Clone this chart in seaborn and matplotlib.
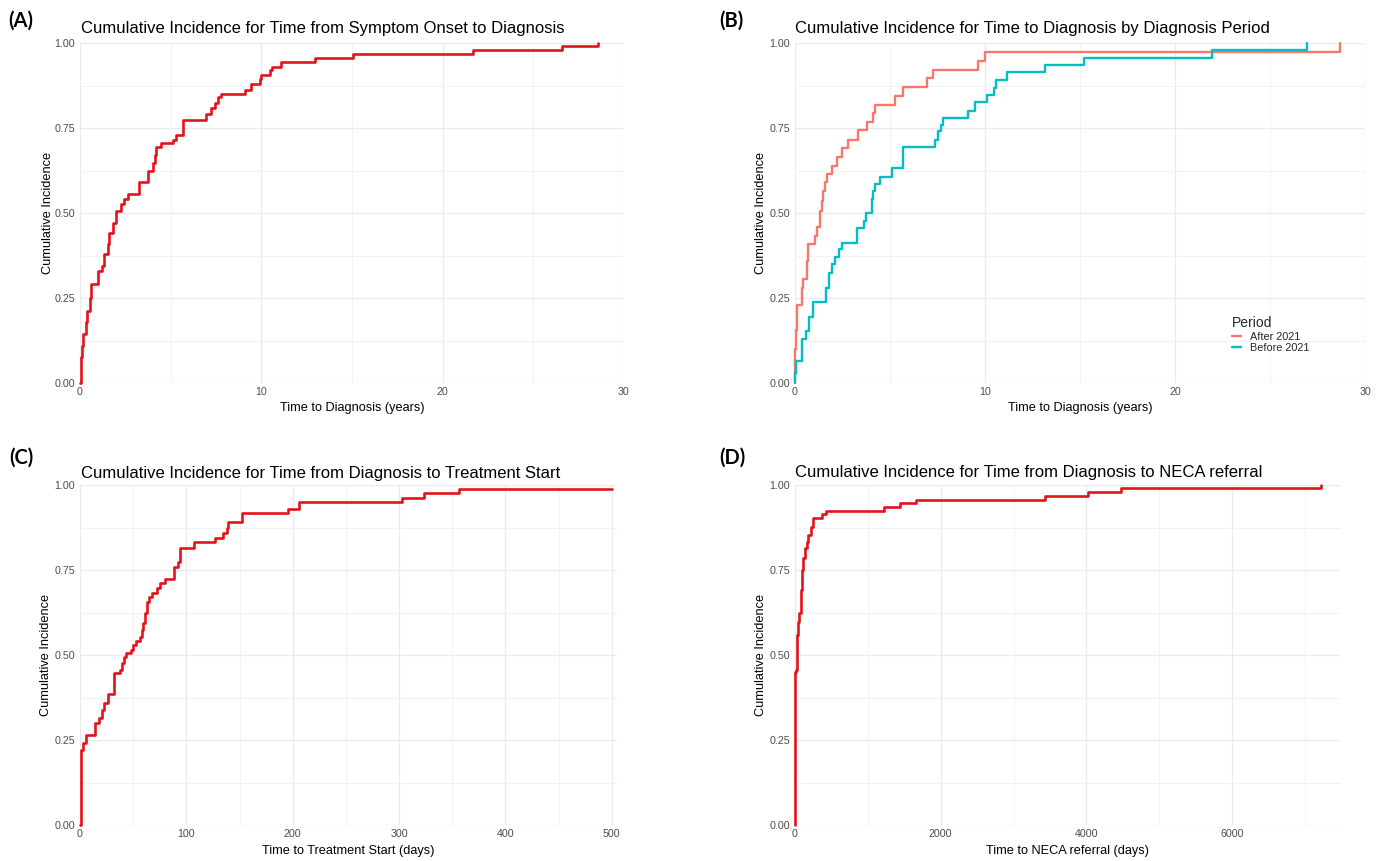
import matplotlib
matplotlib.use("Agg")
import matplotlib.pyplot as plt
import numpy as np
import pandas as pd
import seaborn as sns
from matplotlib.ticker import FixedLocator

# ---------------- data ----------------
# (A) symptom onset -> diagnosis, years
a_time = [0, 0.03, 0.07, 0.10, 0.15, 0.33, 0.40, 0.55, 0.60, 0.98, 1.22, 1.34, 1.56, 1.62,
          1.80, 1.99, 2.27, 2.45, 2.63, 3.28, 3.74, 4.01, 4.11, 4.20, 4.48, 5.12, 5.27, 5.67,
          6.96, 7.24, 7.42, 7.61, 7.79, 9.08, 9.45, 9.91, 10.00, 10.46, 10.60, 11.10, 12.95,
          15.06, 21.67, 26.60, 28.56]
a_inc = [0, 0.04, 0.076, 0.11, 0.145, 0.18, 0.213, 0.25, 0.29, 0.33, 0.345, 0.38, 0.41, 0.44,
         0.47, 0.506, 0.526, 0.54, 0.555, 0.59, 0.624, 0.648, 0.672, 0.694, 0.707, 0.716, 0.729,
         0.775, 0.79, 0.81, 0.824, 0.84, 0.85, 0.863, 0.88, 0.893, 0.907, 0.922, 0.93, 0.944,
         0.957, 0.969, 0.979, 0.99, 1.0]

# (B) by diagnosis period, years
b_after_time = [0, 0.02, 0.05, 0.09, 0.35, 0.44, 0.61, 0.70, 1.05, 1.14, 1.32, 1.40, 1.49, 1.58,
                1.67, 1.93, 2.19, 2.46, 2.81, 3.33, 3.81, 4.12, 4.21, 5.26, 5.70, 6.96, 7.25,
                9.65, 10.00, 28.70]
b_after_inc = [0, 0.10, 0.155, 0.228, 0.28, 0.306, 0.36, 0.41, 0.433, 0.46, 0.506, 0.536, 0.565,
               0.59, 0.614, 0.638, 0.665, 0.69, 0.716, 0.743, 0.768, 0.795, 0.819, 0.844, 0.87,
               0.897, 0.92, 0.946, 0.975, 1.0]
b_before_time = [0, 0.02, 0.05, 0.35, 0.58, 0.75, 0.96, 1.63, 1.81, 1.93, 2.11, 2.33, 2.46, 3.25,
                 3.63, 3.74, 4.05, 4.12, 4.21, 4.47, 5.09, 5.70, 7.37, 7.54, 7.67, 7.81, 9.12,
                 9.47, 10.12, 10.47, 10.58, 11.18, 13.14, 15.20, 21.93, 26.97]
b_before_inc = [0, 0.03, 0.066, 0.13, 0.154, 0.195, 0.238, 0.28, 0.325, 0.35, 0.371, 0.394,
                0.413, 0.457, 0.477, 0.50, 0.54, 0.565, 0.585, 0.607, 0.631, 0.694, 0.716, 0.741,
                0.76, 0.78, 0.80, 0.826, 0.848, 0.868, 0.89, 0.914, 0.935, 0.957, 0.979, 1.0]
periods = ["After 2021", "Before 2021"]
period_colors = ["#F8766D", "#00BFC4"]

# (C) diagnosis -> treatment start, days
c_time = [0, 0.8, 2.5, 5.6, 14.0, 18.0, 20.4, 22.6, 26.6, 32.3, 37.6, 39.2, 41.4, 43.3, 47.6,
          50.2, 52.4, 56.4, 58.0, 59.6, 61.1, 62.7, 64.9, 67.4, 72.1, 75.2, 79.9, 88.4, 92.5,
          94.0, 107.5, 127.3, 134.2, 137.9, 139.5, 152.0, 195.5, 205.6, 302.6, 323.3, 356.0, 500.0]
c_inc = [0, 0.22, 0.24, 0.265, 0.30, 0.314, 0.338, 0.358, 0.384, 0.446, 0.456, 0.477, 0.495,
         0.505, 0.515, 0.53, 0.54, 0.554, 0.574, 0.593, 0.623, 0.657, 0.672, 0.681, 0.696, 0.711,
         0.723, 0.758, 0.775, 0.814, 0.831, 0.843, 0.858, 0.875, 0.89, 0.917, 0.93, 0.951, 0.963,
         0.976, 0.987, 0.987]

# (D) diagnosis -> NECA referral, days
d_time = [0, 5, 14, 23, 32, 46, 59, 78, 91, 105, 137, 160, 183, 215, 251, 365, 420, 1219, 1438,
          1658, 3429, 4017, 4476, 7214]
d_inc = [0, 0.45, 0.456, 0.525, 0.56, 0.598, 0.623, 0.69, 0.75, 0.784, 0.814, 0.833, 0.853,
         0.877, 0.902, 0.914, 0.924, 0.936, 0.946, 0.956, 0.968, 0.979, 0.99, 1.0]

titles = ["Cumulative Incidence for Time from Symptom Onset to Diagnosis",
          "Cumulative Incidence for Time to Diagnosis by Diagnosis Period",
          "Cumulative Incidence for Time from Diagnosis to Treatment Start",
          "Cumulative Incidence for Time from Diagnosis to NECA referral"]
xlabels = ["Time to Diagnosis (years)", "Time to Diagnosis (years)",
           "Time to Treatment Start (days)", "Time to NECA referral (days)"]
panel_tags = ["(A)", "(B)", "(C)", "(D)"]
y_ticks = [0, 0.25, 0.5, 0.75, 1.0]
y_ticklabels = ["0.00", "0.25", "0.50", "0.75", "1.00"]
y_minor = [0.125, 0.375, 0.625, 0.875]

RED = "#E3131B"

# ---------------- figure ----------------
sns.set_theme(style="white")
plt.rcParams["font.family"] = ["Liberation Sans", "DejaVu Sans"]

W, H = 1385, 861
fig = plt.figure(figsize=(W / 100, H / 100), dpi=100)


def add_ax(x0, x1, y_top, y_bot):
    return fig.add_axes([x0 / W, 1 - y_bot / H, (x1 - x0) / W, (y_bot - y_top) / H])


axA = add_ax(80, 624, 43, 383)
axB = add_ax(795, 1365, 43, 383)
axC = add_ax(80, 617, 485, 825)
axD = add_ax(795, 1340, 485, 825)


def style(ax, xmax, xmajor, xminor, xlab, xlab_y, ylab_x):
    ax.set_xlim(0, xmax)
    ax.set_ylim(0, 1)
    ax.xaxis.set_major_locator(FixedLocator(xmajor))
    ax.xaxis.set_minor_locator(FixedLocator(xminor))
    ax.set_xticklabels([str(v) for v in xmajor])
    ax.set_yticks(y_ticks)
    ax.set_yticklabels(y_ticklabels)
    ax.yaxis.set_minor_locator(FixedLocator(y_minor))
    ax.grid(which="major", color="#EBEBEB", linewidth=1.0)
    ax.grid(which="minor", color="#F2F2F2", linewidth=0.7)
    ax.set_axisbelow(True)
    for s in ax.spines.values():
        s.set_visible(False)
    ax.tick_params(which="both", length=0, labelsize=7.7, labelcolor="#4D4D4D")
    ax.tick_params(axis="y", pad=3.4)
    ax.tick_params(axis="x", pad=2.9)
    ax.set_xlabel(xlab, fontsize=9.2, color="black")
    ax.set_ylabel("Cumulative Incidence", fontsize=9.2, color="black")
    ax.xaxis.set_label_coords(0.5, xlab_y)
    ax.xaxis.label.set_va("center")
    ax.yaxis.set_label_coords(ylab_x, 0.5)
    ax.yaxis.label.set_va("center")


# (A)
dfA = pd.DataFrame({"time": a_time, "inc": a_inc})
sns.lineplot(data=dfA, x="time", y="inc", ax=axA, color=RED, linewidth=1.9,
             drawstyle="steps-post", estimator=None, clip_on=False)
style(axA, 30, [0, 10, 20, 30], [5, 15, 25], xlabels[0], -0.0735, -0.058)

# (B)
dfB = pd.concat([
    pd.DataFrame({"time": b_after_time, "inc": b_after_inc, "Period": periods[0]}),
    pd.DataFrame({"time": b_before_time, "inc": b_before_inc, "Period": periods[1]}),
], ignore_index=True)
sns.lineplot(data=dfB, x="time", y="inc", hue="Period", hue_order=periods,
             palette=period_colors, ax=axB, linewidth=1.7, drawstyle="steps-post",
             estimator=None, clip_on=False)
style(axB, 30, [0, 10, 20, 30], [5, 15, 25], xlabels[1], -0.0735, -0.060)
handles, labels = axB.get_legend_handles_labels()
axB.legend(handles, labels, title="Period", loc="upper left",
           bbox_to_anchor=(1232 / W, 1 - 316 / H), bbox_transform=fig.transFigure,
           frameon=False, fontsize=7.8, title_fontsize=10, handlelength=0.85,
           handletextpad=0.8, labelspacing=0.15, borderpad=0, borderaxespad=0,
           alignment="left")

# (C)
dfC = pd.DataFrame({"time": c_time, "inc": c_inc})
sns.lineplot(data=dfC, x="time", y="inc", ax=axC, color=RED, linewidth=1.9,
             drawstyle="steps-post", estimator=None, clip_on=False)
style(axC, 505, [0, 100, 200, 300, 400, 500], [50, 150, 250, 350, 450],
      xlabels[2], -0.0765, -0.064)

# (D)
dfD = pd.DataFrame({"time": d_time, "inc": d_inc})
sns.lineplot(data=dfD, x="time", y="inc", ax=axD, color=RED, linewidth=1.9,
             drawstyle="steps-post", estimator=None, clip_on=False)
style(axD, 7480, [0, 2000, 4000, 6000], [1000, 3000, 5000, 7000],
      xlabels[3], -0.0765, -0.063)

# titles and panel tags
title_pos = [(81, 29), (795, 28), (81, 473), (795, 472)]
for (tx, ty), t in zip(title_pos, titles):
    fig.text(tx / W, 1 - ty / H, t, ha="left", va="center", fontsize=12, color="black")

tag_pos = [(21, 21), (731, 21), (21, 458), (732, 458)]
for (tx, ty), t in zip(tag_pos, panel_tags):
    fig.text(tx / W, 1 - ty / H, t, ha="center", va="center", fontsize=14.5,
             fontweight="bold", family=["Lato", "DejaVu Sans"], color="black")

fig.savefig("out.png", dpi=100, facecolor="white")
